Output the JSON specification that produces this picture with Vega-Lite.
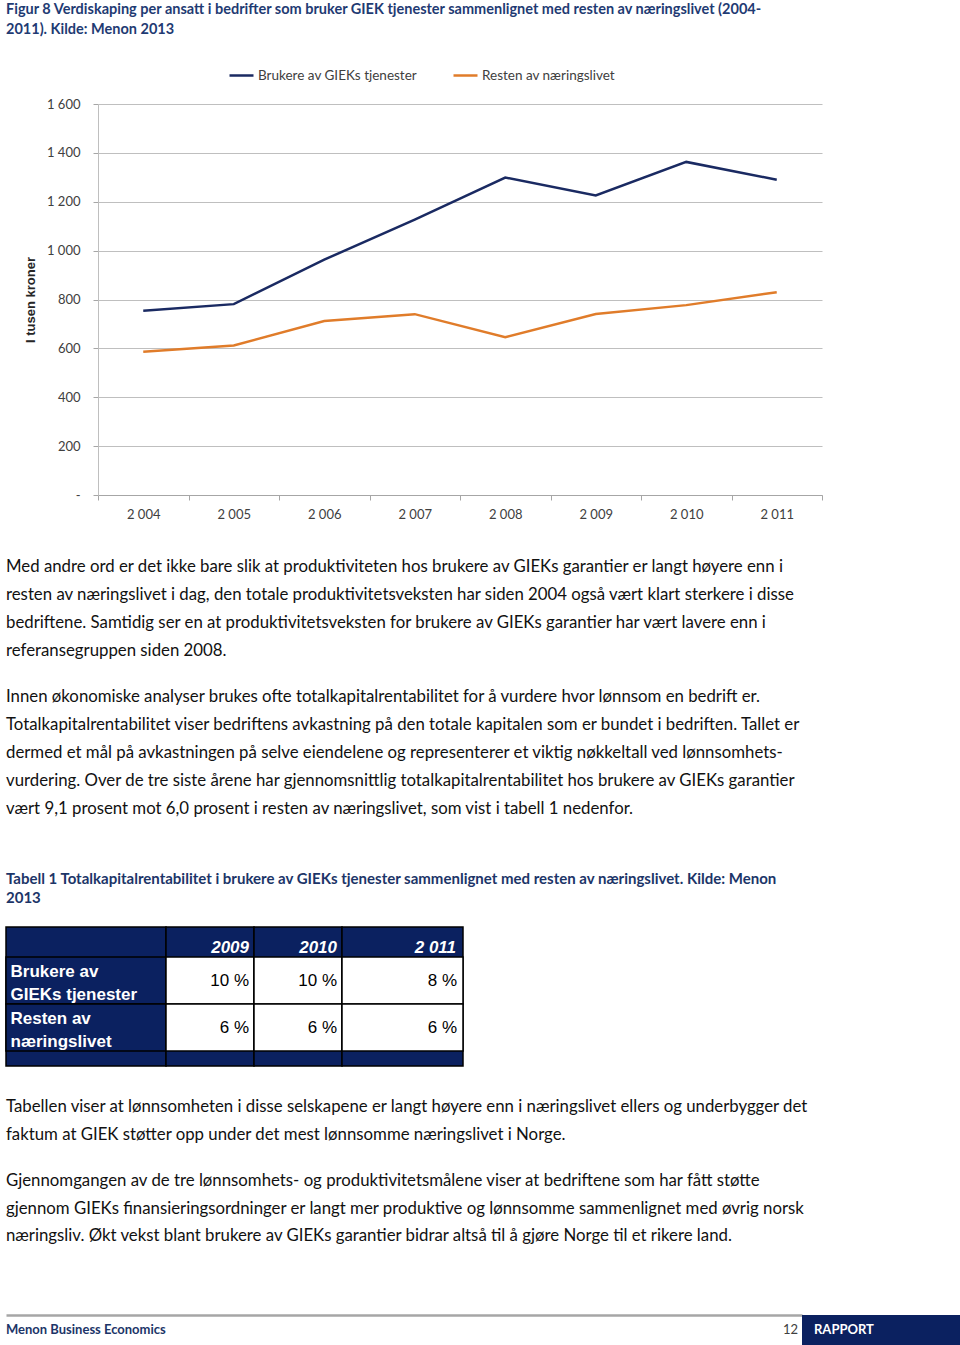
{
  "$schema": "https://vega.github.io/schema/vega-lite/v6.json",
  "padding": {"left": 4, "top": 1, "right": 0, "bottom": 0},
  "background": "white",
  "spacing": 0,
  "resolve": {"scale": {"color": "independent"}, "legend": {"color": "independent"}},
  "config": {"view": {"stroke": null}, "font": "Lato"},
  "datasets": {
    "captions": [
      {"block": "fig", "line": 1, "text": "Figur 8 Verdiskaping per ansatt i bedrifter som bruker GIEK tjenester sammenlignet med resten av næringslivet (2004-"},
      {"block": "fig", "line": 2, "text": "2011). Kilde: Menon 2013"},
      {"block": "tab", "line": 1, "text": "Tabell 1 Totalkapitalrentabilitet i brukere av GIEKs tjenester sammenlignet med resten av næringslivet. Kilde: Menon"},
      {"block": "tab", "line": 2, "text": "2013"}
    ],
    "body": [
      {"para": 1, "line": 1, "text": "Med andre ord er det ikke bare slik at produktiviteten hos brukere av GIEKs garantier er langt høyere enn i"},
      {"para": 1, "line": 2, "text": "resten av næringslivet i dag, den totale produktivitetsveksten har siden 2004 også vært klart sterkere i disse"},
      {"para": 1, "line": 3, "text": "bedriftene. Samtidig ser en at produktivitetsveksten for brukere av GIEKs garantier har vært lavere enn i"},
      {"para": 1, "line": 4, "text": "referansegruppen siden 2008."},
      {"para": 2, "line": 1, "text": "Innen økonomiske analyser brukes ofte totalkapitalrentabilitet for å vurdere hvor lønnsom en bedrift er."},
      {"para": 2, "line": 2, "text": "Totalkapitalrentabilitet viser bedriftens avkastning på den totale kapitalen som er bundet i bedriften. Tallet er"},
      {"para": 2, "line": 3, "text": "dermed et mål på avkastningen på selve eiendelene og representerer et viktig nøkkeltall ved lønnsomhets-"},
      {"para": 2, "line": 4, "text": "vurdering. Over de tre siste årene har gjennomsnittlig totalkapitalrentabilitet hos brukere av GIEKs garantier"},
      {"para": 2, "line": 5, "text": "vært 9,1 prosent mot 6,0 prosent i resten av næringslivet, som vist i tabell 1 nedenfor."},
      {"para": 3, "line": 1, "text": "Tabellen viser at lønnsomheten i disse selskapene er langt høyere enn i næringslivet ellers og underbygger det"},
      {"para": 3, "line": 2, "text": "faktum at GIEK støtter opp under det mest lønnsomme næringslivet i Norge."},
      {"para": 4, "line": 1, "text": "Gjennomgangen av de tre lønnsomhets- og produktivitetsmålene viser at bedriftene som har fått støtte"},
      {"para": 4, "line": 2, "text": "gjennom GIEKs finansieringsordninger er langt mer produktive og lønnsomme sammenlignet med øvrig norsk"},
      {"para": 4, "line": 3, "text": "næringsliv. Økt vekst blant brukere av GIEKs garantier bidrar altså til å gjøre Norge til et rikere land."}
    ],
    "series": [
      {"series": "Brukere av GIEKs tjenester", "year": 2004, "value": 754},
      {"series": "Brukere av GIEKs tjenester", "year": 2005, "value": 781},
      {"series": "Brukere av GIEKs tjenester", "year": 2006, "value": 963},
      {"series": "Brukere av GIEKs tjenester", "year": 2007, "value": 1127},
      {"series": "Brukere av GIEKs tjenester", "year": 2008, "value": 1299},
      {"series": "Brukere av GIEKs tjenester", "year": 2009, "value": 1226},
      {"series": "Brukere av GIEKs tjenester", "year": 2010, "value": 1363},
      {"series": "Brukere av GIEKs tjenester", "year": 2011, "value": 1290},
      {"series": "Resten av næringslivet", "year": 2004, "value": 586},
      {"series": "Resten av næringslivet", "year": 2005, "value": 612},
      {"series": "Resten av næringslivet", "year": 2006, "value": 712},
      {"series": "Resten av næringslivet", "year": 2007, "value": 740},
      {"series": "Resten av næringslivet", "year": 2008, "value": 646},
      {"series": "Resten av næringslivet", "year": 2009, "value": 741},
      {"series": "Resten av næringslivet", "year": 2010, "value": 777},
      {"series": "Resten av næringslivet", "year": 2011, "value": 830}
    ],
    "cells": [
      {"row": "Brukere av|GIEKs tjenester", "year": "2009", "value": "10 %"},
      {"row": "Resten av|næringslivet", "year": "2009", "value": "6 %"},
      {"row": "Brukere av|GIEKs tjenester", "year": "2010", "value": "10 %"},
      {"row": "Resten av|næringslivet", "year": "2010", "value": "6 %"},
      {"row": "Brukere av|GIEKs tjenester", "year": "2 011", "value": "8 %"},
      {"row": "Resten av|næringslivet", "year": "2 011", "value": "6 %"}
    ],
    "footer": [
      {"item": "publisher", "text": "Menon Business Economics"},
      {"item": "page", "text": "12"},
      {"item": "label", "text": "RAPPORT"}
    ]
  },
  "vconcat": [
    {
      "width": 826, "height": 59,
      "data": {"name": "captions"},
      "transform": [{"filter": "datum.block == 'fig'"}],
      "mark": {"type": "text", "align": "left", "baseline": "middle", "font": "Lato", "fontWeight": "bold", "fontSize": 14.5, "color": "#1f3b73"},
      "encoding": {
        "x": {"field": "block", "type": "nominal", "scale": {"type": "point", "padding": 0, "align": 0}, "axis": null},
        "y": {"field": "line", "type": "quantitative", "scale": {"domain": [0.65, 3.6], "reverse": true, "zero": false, "nice": false}, "axis": null},
        "text": {"field": "text"}
      }
    },
    {
      "spacing": 0,
      "resolve": {"scale": {"color": "independent"}, "legend": {"color": "independent"}},
      "hconcat": [
        {"width": 18, "height": 10, "data": {"values": [{"k": 0}]}, "mark": {"type": "point", "opacity": 0}},
        {
          "width": 724, "height": 391,
          "data": {"name": "series"},
          "mark": {"type": "line", "strokeWidth": 2.5},
          "encoding": {
            "x": {"field": "year", "type": "ordinal", "bandPosition": 0.5,
              "scale": {"type": "band", "paddingInner": 0, "paddingOuter": 0},
              "axis": {"title": null, "labelAngle": 0, "labelExpr": "isValid(datum.value) && isFinite(+datum.value) ? replace(format(+datum.value, ','), ',', ' ') : ''", "tickBand": "extent", "tickSize": 5, "tickColor": "#a6a6a6", "domainColor": "#a6a6a6", "labelPadding": 8, "labelFont": "Lato", "labelFontSize": 13, "labelColor": "#404040", "grid": false}},
            "y": {"field": "value", "type": "quantitative", "scale": {"domain": [0, 1600], "nice": false},
              "axis": {"values": [0, 200, 400, 600, 800, 1000, 1200, 1400, 1600], "title": "I tusen kroner", "titleFont": "Liberation Sans", "titleFontSize": 13, "titleFontWeight": "bold", "titleColor": "#262626", "titlePadding": 9, "labelExpr": "datum.value == 0 ? '-' : replace(format(datum.value, ','), ',', ' ')", "labelFont": "Lato", "labelFontSize": 13, "labelColor": "#404040", "labelPadding": 13, "tickSize": 5, "tickColor": "#a6a6a6", "domainColor": "#bfbfbf", "gridColor": "#bfbfbf", "grid": true}},
            "color": {"field": "series", "type": "nominal",
              "scale": {"domain": ["Brukere av GIEKs tjenester", "Resten av næringslivet"], "range": ["#1a2a62", "#e07c2a"]},
              "legend": {"orient": "none", "legendX": 130, "legendY": -42, "direction": "horizontal", "title": null, "symbolType": "stroke", "symbolSize": 576, "symbolStrokeWidth": 2.5, "labelFont": "Lato", "labelFontSize": 13.5, "labelColor": "#404040", "columnPadding": 30, "labelOffset": 3}}
          }
        }
      ]
    },
    {
      "width": 826, "height": 153,
      "data": {"name": "body"},
      "transform": [{"filter": "datum.para == 1"}],
      "mark": {"type": "text", "align": "left", "baseline": "middle", "font": "Lato", "fontSize": 16.8, "color": "#111111"},
      "encoding": {
        "x": {"field": "para", "type": "nominal", "scale": {"type": "point", "padding": 0, "align": 0}, "axis": null},
        "y": {"field": "line", "type": "quantitative", "scale": {"domain": [-0.6429, 4.8214], "reverse": true, "zero": false, "nice": false}, "axis": null},
        "text": {"field": "text"}
      }
    },
    {
      "width": 826, "height": 176,
      "data": {"name": "body"},
      "transform": [{"filter": "datum.para == 2"}],
      "mark": {"type": "text", "align": "left", "baseline": "middle", "font": "Lato", "fontSize": 16.8, "color": "#111111"},
      "encoding": {
        "x": {"field": "para", "type": "nominal", "scale": {"type": "point", "padding": 0, "align": 0}, "axis": null},
        "y": {"field": "line", "type": "quantitative", "scale": {"domain": [0.1786, 6.4643], "reverse": true, "zero": false, "nice": false}, "axis": null},
        "text": {"field": "text"}
      }
    },
    {
      "width": 826, "height": 76,
      "data": {"name": "captions"},
      "transform": [{"filter": "datum.block == 'tab'"}],
      "mark": {"type": "text", "align": "left", "baseline": "middle", "font": "Lato", "fontWeight": "bold", "fontSize": 15, "color": "#1c3568"},
      "encoding": {
        "x": {"field": "block", "type": "nominal", "scale": {"type": "point", "padding": 0, "align": 0}, "axis": null},
        "y": {"field": "line", "type": "quantitative", "scale": {"domain": [-0.5263, 3.4737], "reverse": true, "zero": false, "nice": false}, "axis": null},
        "text": {"field": "text"}
      }
    },
    {
      "spacing": 0,
      "bounds": "flush",
      "hconcat": [
        {
          "width": 160, "height": 139,
          "view": {"fill": "#0b2160", "stroke": "#000000", "strokeWidth": 1.5},
          "data": {"name": "cells"},
          "transform": [{"filter": "datum.year == '2009'"}],
          "mark": {"type": "rect", "fill": "#0b2160", "stroke": "#000000", "strokeWidth": 1.5},
          "encoding": {
            "y": {"field": "row", "type": "nominal", "sort": null,
              "scale": {"type": "band", "domain": ["Brukere av|GIEKs tjenester", "Resten av|næringslivet"], "paddingInner": 0, "paddingOuter": 0.4787, "align": 0.6667},
              "axis": {"title": null, "orient": "left", "domain": false, "ticks": false, "tickSize": 0, "grid": false, "labelPadding": -4, "labelOffset": -8.5, "labelAlign": "left", "labelBaseline": "middle", "labelColor": "#ffffff", "labelFont": "Liberation Sans", "labelFontWeight": "bold", "labelFontSize": 17, "labelLineHeight": 23, "labelExpr": "split(datum.value, '|')", "labelLimit": 0, "zindex": 1}}
          }
        },
        {
          "width": 88, "height": 139,
          "view": {"fill": "#0b2160", "stroke": "#000000", "strokeWidth": 1.5},
          "data": {"name": "cells"},
          "transform": [{"filter": "datum.year == '2009'"}],
          "encoding": {
            "x": {"field": "year", "type": "nominal", "scale": {"type": "band", "paddingInner": 0, "paddingOuter": 0},
              "axis": {"orient": "top", "title": null, "domain": false, "ticks": false, "tickSize": 0, "grid": false, "labelAlign": "right", "labelOffset": 39, "labelPadding": -20, "labelBaseline": "middle", "labelColor": "#ffffff", "labelFont": "Liberation Sans", "labelFontWeight": "bold", "labelFontStyle": "italic", "labelFontSize": 17, "labelAngle": 0, "zindex": 1}},
            "y": {"field": "row", "type": "nominal", "sort": null,
              "scale": {"type": "band", "domain": ["Brukere av|GIEKs tjenester", "Resten av|næringslivet"], "paddingInner": 0, "paddingOuter": 0.4787, "align": 0.6667}, "axis": null}
          },
          "layer": [
            {"mark": {"type": "rect", "fill": "#ffffff", "stroke": "#000000", "strokeWidth": 1.5}},
            {"mark": {"type": "text", "align": "right", "baseline": "middle", "dx": -5, "font": "Liberation Sans", "fontSize": 17, "color": "#000000"},
             "encoding": {"x": {"field": "year", "type": "nominal", "bandPosition": 1}, "text": {"field": "value"}}}
          ]
        },
        {
          "width": 88, "height": 139,
          "view": {"fill": "#0b2160", "stroke": "#000000", "strokeWidth": 1.5},
          "data": {"name": "cells"},
          "transform": [{"filter": "datum.year == '2010'"}],
          "encoding": {
            "x": {"field": "year", "type": "nominal", "scale": {"type": "band", "paddingInner": 0, "paddingOuter": 0},
              "axis": {"orient": "top", "title": null, "domain": false, "ticks": false, "tickSize": 0, "grid": false, "labelAlign": "right", "labelOffset": 39, "labelPadding": -20, "labelBaseline": "middle", "labelColor": "#ffffff", "labelFont": "Liberation Sans", "labelFontWeight": "bold", "labelFontStyle": "italic", "labelFontSize": 17, "labelAngle": 0, "zindex": 1}},
            "y": {"field": "row", "type": "nominal", "sort": null,
              "scale": {"type": "band", "domain": ["Brukere av|GIEKs tjenester", "Resten av|næringslivet"], "paddingInner": 0, "paddingOuter": 0.4787, "align": 0.6667}, "axis": null}
          },
          "layer": [
            {"mark": {"type": "rect", "fill": "#ffffff", "stroke": "#000000", "strokeWidth": 1.5}},
            {"mark": {"type": "text", "align": "right", "baseline": "middle", "dx": -5, "font": "Liberation Sans", "fontSize": 17, "color": "#000000"},
             "encoding": {"x": {"field": "year", "type": "nominal", "bandPosition": 1}, "text": {"field": "value"}}}
          ]
        },
        {
          "width": 121, "height": 139,
          "view": {"fill": "#0b2160", "stroke": "#000000", "strokeWidth": 1.5},
          "data": {"name": "cells"},
          "transform": [{"filter": "datum.year == '2 011'"}],
          "encoding": {
            "x": {"field": "year", "type": "nominal", "scale": {"type": "band", "paddingInner": 0, "paddingOuter": 0},
              "axis": {"orient": "top", "title": null, "domain": false, "ticks": false, "tickSize": 0, "grid": false, "labelAlign": "right", "labelOffset": 53.5, "labelPadding": -20, "labelBaseline": "middle", "labelColor": "#ffffff", "labelFont": "Liberation Sans", "labelFontWeight": "bold", "labelFontStyle": "italic", "labelFontSize": 17, "labelAngle": 0, "zindex": 1}},
            "y": {"field": "row", "type": "nominal", "sort": null,
              "scale": {"type": "band", "domain": ["Brukere av|GIEKs tjenester", "Resten av|næringslivet"], "paddingInner": 0, "paddingOuter": 0.4787, "align": 0.6667}, "axis": null}
          },
          "layer": [
            {"mark": {"type": "rect", "fill": "#ffffff", "stroke": "#000000", "strokeWidth": 1.5}},
            {"mark": {"type": "text", "align": "right", "baseline": "middle", "dx": -6, "font": "Liberation Sans", "fontSize": 17, "color": "#000000"},
             "encoding": {"x": {"field": "year", "type": "nominal", "bandPosition": 1}, "text": {"field": "value"}}}
          ]
        }
      ]
    },
    {
      "width": 826, "height": 91,
      "data": {"name": "body"},
      "transform": [{"filter": "datum.para == 3"}],
      "mark": {"type": "text", "align": "left", "baseline": "middle", "font": "Lato", "fontSize": 16.8, "color": "#111111"},
      "encoding": {
        "x": {"field": "para", "type": "nominal", "scale": {"type": "point", "padding": 0, "align": 0}, "axis": null},
        "y": {"field": "line", "type": "quantitative", "scale": {"domain": [-0.4286, 2.8214], "reverse": true, "zero": false, "nice": false}, "axis": null},
        "text": {"field": "text"}
      }
    },
    {
      "width": 826, "height": 157,
      "data": {"name": "body"},
      "transform": [{"filter": "datum.para == 4"}],
      "mark": {"type": "text", "align": "left", "baseline": "middle", "font": "Lato", "fontSize": 16.8, "color": "#111111"},
      "encoding": {
        "x": {"field": "para", "type": "nominal", "scale": {"type": "point", "padding": 0, "align": 0}, "axis": null},
        "y": {"field": "line", "type": "quantitative", "scale": {"domain": [0.1636, 5.8727], "reverse": true, "zero": false, "nice": false}, "axis": null},
        "text": {"field": "text"}
      }
    },
    {
      "spacing": 0,
      "bounds": "flush",
      "hconcat": [
        {
          "width": 796, "height": 30,
          "data": {"name": "footer"},
          "encoding": {
            "x": {"field": "item", "type": "nominal", "scale": {"type": "point", "domain": ["publisher", "page"], "padding": 0},
              "axis": {"orient": "top", "title": null, "labels": false, "ticks": false, "grid": false, "domain": true, "domainColor": "#a6a6a6", "domainWidth": 2.5}},
            "text": {"field": "text"}
          },
          "layer": [
            {"transform": [{"filter": "datum.item == 'publisher'"}], "mark": {"type": "text", "align": "left", "baseline": "middle", "font": "Lato", "fontWeight": "bold", "fontSize": 13, "color": "#1c3568"}},
            {"transform": [{"filter": "datum.item == 'page'"}], "mark": {"type": "text", "align": "right", "baseline": "middle", "dx": -4, "font": "Lato", "fontSize": 13, "color": "#404040"}}
          ]
        },
        {
          "width": 160, "height": 30,
          "view": {"fill": "#0b2160"},
          "data": {"name": "footer"},
          "transform": [{"filter": "datum.item == 'label'"}],
          "mark": {"type": "text", "align": "left", "baseline": "middle", "dx": 12, "font": "Lato", "fontWeight": "bold", "fontSize": 13, "color": "#ffffff"},
          "encoding": {
            "x": {"field": "item", "type": "nominal", "scale": {"type": "point", "padding": 0, "align": 0}, "axis": null},
            "text": {"field": "text"}
          }
        }
      ]
    }
  ]
}
